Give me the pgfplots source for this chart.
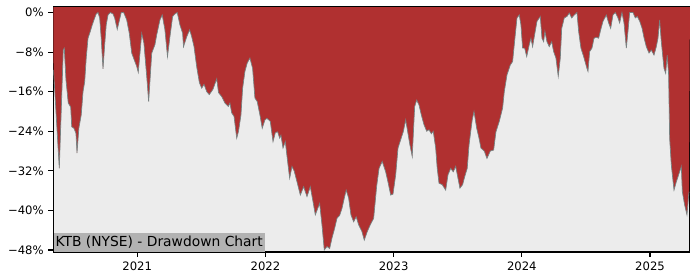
\documentclass[border=0pt]{standalone}
\usepackage{pgfplots}
\pgfplotsset{compat=1.18}
\usepackage{pgfplotstable}
\usepgfplotslibrary{fillbetween}
\usepackage{fontspec}
\setmainfont{DejaVu Sans}
\definecolor{ddred}{RGB}{176,48,48}
\definecolor{bggray}{RGB}{236,236,236}
\definecolor{boxgray}{RGB}{178,178,178}
\definecolor{edgegray}{RGB}{120,130,130}
\pgfplotstableread{
x y
2020.347 -11.6
2020.392 -31.5
2020.423 -7.5
2020.431 -7.2
2020.444 -13.6
2020.462 -18.3
2020.481 -19.1
2020.489 -23.1
2020.506 -23.4
2020.522 -24.4
2020.530 -28.4
2020.545 -23.3
2020.563 -20.7
2020.577 -16.0
2020.590 -14.0
2020.602 -9.2
2020.616 -5.2
2020.634 -3.8
2020.649 -2.5
2020.668 -1.1
2020.680 -0.3
2020.694 0
2020.707 -1.1
2020.719 -5.2
2020.733 -11.4
2020.746 -6.5
2020.758 -2.5
2020.772 -0.5
2020.790 0
2020.811 -0.3
2020.824 -1.1
2020.844 -3.4
2020.857 -2.0
2020.875 0
2020.894 0
2020.918 -1.5
2020.938 -4.2
2020.957 -8.2
2020.977 -9.6
2020.996 -10.9
2021.008 -12.1
2021.035 -4.2
2021.052 -6.2
2021.074 -12.9
2021.089 -18.0
2021.113 -8.2
2021.138 -6.5
2021.152 -4.5
2021.177 -1.5
2021.195 -0.5
2021.216 -3.5
2021.236 -8.9
2021.255 -4.9
2021.276 -0.8
2021.294 -0.3
2021.312 0
2021.333 -2.5
2021.354 -4.2
2021.361 -6.9
2021.386 -4.9
2021.409 -3.5
2021.425 -4.9
2021.443 -6.9
2021.464 -11.0
2021.485 -14.2
2021.503 -15.3
2021.521 -14.5
2021.542 -16.0
2021.562 -16.6
2021.591 -15.5
2021.620 -13.4
2021.634 -16.2
2021.659 -17.0
2021.684 -18.3
2021.710 -19.0
2021.723 -18.3
2021.737 -20.3
2021.755 -21.0
2021.776 -25.4
2021.790 -24.0
2021.809 -20.7
2021.822 -15.3
2021.840 -11.9
2021.858 -10.2
2021.879 -9.2
2021.900 -11.3
2021.918 -17.3
2021.936 -18.0
2021.957 -20.7
2021.975 -23.4
2021.996 -21.7
2022.012 -21.4
2022.038 -22.0
2022.059 -26.1
2022.077 -24.3
2022.095 -24.1
2022.111 -25.4
2022.121 -24.8
2022.137 -27.4
2022.155 -26.1
2022.173 -30.1
2022.189 -33.5
2022.207 -31.1
2022.225 -32.1
2022.246 -34.2
2022.272 -36.9
2022.298 -35.2
2022.324 -37.2
2022.350 -35.2
2022.371 -38.2
2022.389 -40.9
2022.408 -39.6
2022.423 -38.6
2022.441 -42.9
2022.459 -48.0
2022.480 -47.3
2022.501 -47.7
2022.519 -45.6
2022.540 -43.6
2022.558 -41.6
2022.579 -41.0
2022.597 -39.6
2022.615 -37.5
2022.630 -35.9
2022.649 -37.5
2022.667 -40.9
2022.688 -42.3
2022.708 -41.3
2022.727 -42.9
2022.753 -44.3
2022.771 -46.0
2022.794 -44.3
2022.818 -42.9
2022.844 -41.6
2022.868 -35.0
2022.886 -31.5
2022.911 -30.1
2022.938 -32.2
2022.958 -34.5
2022.977 -36.9
2022.995 -36.7
2023.016 -32.8
2023.034 -27.4
2023.055 -25.7
2023.075 -24.1
2023.094 -21.7
2023.109 -24.0
2023.127 -26.8
2023.145 -29.1
2023.164 -19.0
2023.180 -17.7
2023.198 -18.7
2023.216 -20.7
2023.237 -22.7
2023.258 -24.0
2023.276 -23.7
2023.294 -24.5
2023.309 -24.0
2023.328 -27.4
2023.340 -31.5
2023.354 -34.5
2023.379 -34.8
2023.406 -35.9
2023.424 -32.8
2023.445 -31.5
2023.465 -32.2
2023.484 -31.1
2023.502 -33.5
2023.517 -35.5
2023.538 -34.8
2023.554 -33.2
2023.574 -31.5
2023.588 -26.8
2023.601 -24.1
2023.613 -21.7
2023.627 -20.0
2023.648 -23.4
2023.666 -25.4
2023.681 -27.4
2023.707 -28.0
2023.728 -29.5
2023.754 -28.0
2023.780 -27.8
2023.798 -24.1
2023.824 -22.0
2023.850 -19.3
2023.863 -16.0
2023.884 -12.6
2023.910 -10.6
2023.928 -9.9
2023.941 -6.5
2023.962 -1.1
2023.980 -0.5
2023.993 -2.5
2024.006 -7.2
2024.022 -7.2
2024.038 -8.9
2024.058 -6.5
2024.071 -5.2
2024.084 -6.9
2024.097 -4.9
2024.118 -1.8
2024.144 -0.8
2024.157 -5.2
2024.170 -5.9
2024.180 -3.8
2024.196 -5.9
2024.214 -6.9
2024.233 -5.9
2024.248 -7.9
2024.266 -9.2
2024.284 -12.9
2024.300 -9.2
2024.311 -3.2
2024.331 -1.1
2024.352 -0.8
2024.370 -0.1
2024.389 -1.1
2024.409 -0.5
2024.430 0
2024.443 -3.8
2024.461 -7.2
2024.482 -8.9
2024.508 -11.3
2024.516 -11.9
2024.529 -7.9
2024.547 -7.2
2024.563 -5.2
2024.581 -5.0
2024.599 -5.2
2024.615 -3.5
2024.633 -1.8
2024.659 -0.5
2024.677 -2.1
2024.693 -3.2
2024.711 -0.5
2024.729 0
2024.750 -1.1
2024.763 -2.1
2024.781 0
2024.797 -2.1
2024.815 -7.2
2024.828 -3.8
2024.841 0
2024.867 0
2024.885 -1.1
2024.901 -0.8
2024.920 -1.8
2024.938 -3.2
2024.954 -5.2
2024.971 -6.9
2024.992 -8.2
2025.010 -7.6
2025.031 -8.6
2025.049 -6.9
2025.062 -5.2
2025.075 -1.5
2025.088 -5.9
2025.109 -11.3
2025.122 -12.3
2025.134 -8.6
2025.145 -12.6
2025.153 -25.4
2025.166 -30.8
2025.187 -35.9
2025.205 -34.2
2025.223 -32.8
2025.244 -31.1
2025.252 -36.2
2025.270 -38.9
2025.288 -40.9
2025.304 -36.2
}\ddtable
\begin{document}
\begin{tikzpicture}
\begin{axis}[
  scale only axis,
  width=460.1pt, height=177pt,
  xmin=2020.345, xmax=2025.311,
  ymin=-48.4, ymax=1.1,
  axis background/.style={fill=bggray},
  axis line style={black, line width=0.8pt},
  tick pos=left,
  tick align=outside,
  major tick length=3.5pt,
  tick style={black, line width=0.8pt},
  xtick={2021,2022,2023,2024,2025},
  xticklabels={2021,2022,2023,2024,2025},
  ytick={0,-8,-16,-24,-32,-40,-48},
  yticklabels={0\%,−8\%,−16\%,−24\%,−32\%,−40\%,−48\%},
  ticklabel style={font=\fontsize{8.4}{10}\selectfont},
  clip=true,
]
\addplot[name path=dd, draw=none] table[x=x,y=y] {\ddtable};
\addplot[name path=top, draw=none] coordinates {(2020.345,1.1) (2025.311,1.1)};
\addplot[ddred] fill between[of=dd and top];
\addplot[edgegray, line width=0.5pt] table[x=x,y=y] {\ddtable};
\node[anchor=south west, fill=boxgray, inner xsep=1.5pt, inner ysep=2.4pt,
  font=\fontsize{10}{12}\selectfont, text=black] at (rel axis cs:0,0) {KTB (NYSE) - Drawdown Chart};
\end{axis}
\path (-38.5pt,-20.2pt) rectangle (467.4pt,182.1pt);
\end{tikzpicture}
\end{document}
